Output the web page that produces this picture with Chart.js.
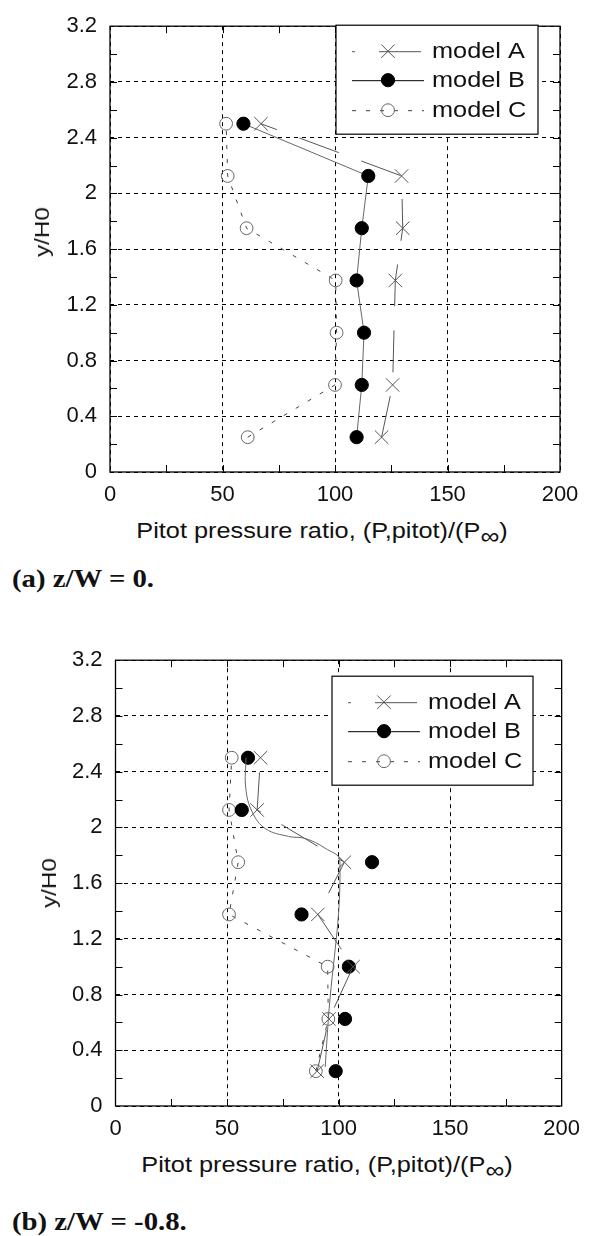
<!DOCTYPE html>
<html>
<head>
<meta charset="utf-8">
<title>Pitot pressure ratio profiles</title>
<script src="https://cdn.jsdelivr.net/npm/chart.js@4.4.1/dist/chart.umd.min.js"></script>
<style>
  html, body { margin: 0; padding: 0; background: #fff; width: 590px; height: 1236px; overflow: hidden; }
  .panel { position: absolute; left: 0; width: 590px; height: 515px; }
  .panel canvas { display: block; }
  .ytitle, .xtitle, .caption { position: absolute; white-space: nowrap; color: #111; }
  .ytitle { font: 21px "Liberation Sans", Arial, sans-serif; transform: translate(-50%, -50%) rotate(-90deg) scaleX(1.15); }
  .xtitle { font: 22px "Liberation Sans", Arial, sans-serif; transform: translate(-50%, -50%) scaleX(1.15); }
  .xtitle .inf { font-size: 23px; position: relative; top: 6px; }
  .caption { left: 12px; font: bold 25px "Liberation Serif", "Times New Roman", serif; transform-origin: 0 50%; transform: translateY(-50%) scaleX(1.15); }
</style>
</head>
<body>

<div class="panel" style="top:0"><canvas id="chartA" width="590" height="515"></canvas></div>
<div class="ytitle" style="left:42px; top:232px">y/H0</div>
<div class="xtitle" style="left:322px; top:530px">Pitot pressure ratio, (P,pitot)/(P<span class="inf">&infin;</span>)</div>
<div class="caption" style="top:579px">(a) z/W = 0.</div>

<div class="panel" style="top:634px"><canvas id="chartB" width="590" height="515"></canvas></div>
<div class="ytitle" style="left:49px; top:883px">y/H0</div>
<div class="xtitle" style="left:327px; top:1164px">Pitot pressure ratio, (P,pitot)/(P<span class="inf">&infin;</span>)</div>
<div class="caption" style="top:1222px">(b) z/W = -0.8.</div>

<script>
'use strict';

// ── Data ─────────────────────────────────────────────────────────────────────
// Measurement heights (y/H0), shared by all three models and both stations.
const yLevels = [0.25, 0.625, 1.0, 1.375, 1.75, 2.125, 2.5];

// (a) z/W = 0 — pitot pressure ratio per height (null = no point)
const a_modelA = [120.7, 125.6, null, 126.8, 130.1, 129.6, 67.1];
const a_modelB = [109.6, 111.9, 112.9, 109.6, 111.9, 114.8, 59.3];
const a_modelC = [61.2, 100.0, 100.7, 100.3, 60.7, 52.3, 51.6];

// (b) z/W = -0.8
const b_modelA = [90.4, 95.7, 106.5, 90.7, 102.6, 63.5, 65.0];
const b_modelB = [98.7, 102.9, 104.6, 83.4, 115.0, 56.6, 59.4];
const b_modelC = [89.8, 95.4, 95.1, 50.9, 55.0, 50.9, 52.1];

// (b) smooth solid curve drawn through the profile
const b_curveY = [2.5, 2.28, 2.11, 1.99, 1.935, 1.92, 1.85, 1.757, 0.62, 0.28];
const b_curveX = [58.5, 58.4, 61.3, 67.3, 77.6, 85.1, 94.0, 100.6, 95.4, 94.0];

// Axis ticks
const xTicks      = [0, 50, 100, 150, 200];
const yTicks      = [0, 0.4, 0.8, 1.2, 1.6, 2, 2.4, 2.8, 3.2];
const xMinorTicks = [25, 50, 75, 100, 125, 150, 175];
const yMinorTicks = [0.2, 0.4, 0.6, 0.8, 1.0, 1.2, 1.4, 1.6, 1.8, 2.0, 2.2, 2.4, 2.6, 2.8, 3.0];

const legendLabels = ['model A', 'model B', 'model C'];

// ── Styles ───────────────────────────────────────────────────────────────────
const FONT = '"Liberation Sans", Arial, sans-serif';
const STYLE_A = { color: '#555', dash: [42, 24], pointStyle: 'crossRot', radius: 9.5, fill: 'rgba(0,0,0,0)' };
const STYLE_B = { color: '#666', dash: [], pointStyle: 'circle', radius: 6.6, fill: '#000', pointBorder: '#000' };
const STYLE_C = { color: '#444', dash: [4, 10], pointStyle: 'circle', radius: 6.4, fill: 'rgba(0,0,0,0)', pointBorder: '#666' };

function toPoints(xs, ys) {
  return ys.map(function (y, i) { return { x: xs[i], y: y }; });
}

function seriesDataset(label, xs, style, showLine) {
  return {
    label: label,
    data: toPoints(xs, yLevels),
    showLine: showLine,
    spanGaps: true,
    borderColor: style.color,
    borderWidth: 1,
    borderDash: style.dash,
    tension: 0,
    pointStyle: style.pointStyle,
    pointRadius: style.radius,
    pointHoverRadius: style.radius,
    pointBackgroundColor: style.fill,
    pointBorderColor: style.pointBorder || style.color,
    pointBorderWidth: 1,
  };
}

// ── Plugins ──────────────────────────────────────────────────────────────────

/** Solid frame plus short inward ticks on all four sides. */
const frameTicks = {
  id: 'frameTicks',
  beforeDatasetsDraw(chart) {
    const { ctx, chartArea: a, scales } = chart;
    const len = 7;
    ctx.save();
    ctx.strokeStyle = '#000';
    ctx.lineWidth = 1;
    ctx.setLineDash([]);
    ctx.beginPath();
    xMinorTicks.forEach(function (v) {
      const x = Math.round(scales.x.getPixelForValue(v)) + 0.5;
      ctx.moveTo(x, a.bottom); ctx.lineTo(x, a.bottom - len);
      ctx.moveTo(x, a.top);    ctx.lineTo(x, a.top + len);
    });
    yMinorTicks.forEach(function (v) {
      const y = Math.round(scales.y.getPixelForValue(v)) + 0.5;
      ctx.moveTo(a.left, y);  ctx.lineTo(a.left + len, y);
      ctx.moveTo(a.right, y); ctx.lineTo(a.right - len, y);
    });
    ctx.stroke();
    ctx.lineWidth = 1.3;
    ctx.strokeRect(a.left, a.top, a.right - a.left, a.bottom - a.top);
    ctx.restore();
  },
};

/** Boxed legend with line sample + marker, like the original plot. */
const boxLegend = {
  id: 'boxLegend',
  afterDatasetsDraw(chart, _args, opts) {
    const { ctx, chartArea: a } = chart;
    const left = a.left + opts.dx;
    const top  = a.top + opts.dy;
    const rows = [26, 55, 85];
    ctx.save();
    ctx.fillStyle = '#fff';
    ctx.fillRect(left, top, opts.w, opts.h);
    ctx.strokeStyle = '#000';
    ctx.lineWidth = 1.2;
    ctx.setLineDash([]);
    ctx.strokeRect(left, top, opts.w, opts.h);

    opts.styles.forEach(function (st, i) {
      const y = top + rows[i];
      const x0 = left + 16, x1 = left + 88, xm = left + 52;
      ctx.save();
      ctx.strokeStyle = i === 1 ? '#000' : st.color;
      ctx.lineWidth = 1;
      ctx.setLineDash(st.dash);
      ctx.lineDashOffset = i === 0 ? 39 : 0;
      ctx.beginPath();
      ctx.moveTo(x0, y + 0.5); ctx.lineTo(x1, y + 0.5);
      ctx.stroke();
      ctx.restore();

      ctx.save();
      ctx.fillStyle = st.fill;
      ctx.strokeStyle = st.pointBorder || st.color;
      ctx.lineWidth = 1;
      Chart.helpers.drawPoint(ctx, { pointStyle: st.pointStyle, radius: st.radius, rotation: 0, borderWidth: 1 }, xm, y);
      ctx.restore();

      ctx.save();
      ctx.translate(left + 96, y);
      ctx.scale(1.15, 1);
      ctx.fillStyle = '#111';
      ctx.font = '22px ' + FONT;
      ctx.textBaseline = 'middle';
      ctx.fillText(legendLabels[i], 0, 1);
      ctx.restore();
    });
    ctx.restore();
  },
};

// ── Chart factory ────────────────────────────────────────────────────────────

function makeChart(canvasId, datasets, shiftLeft, legendPos) {
  const tickFont = { family: FONT, size: 22 };
  return new Chart(document.getElementById(canvasId), {
    type: 'scatter',
    data: { datasets: datasets },
    plugins: [frameTicks, boxLegend],
    options: {
      responsive: false,
      animation: false,
      events: [],
      layout: { padding: { left: shiftLeft, right: 30 - shiftLeft, top: 23, bottom: 0 } },
      plugins: {
        legend: { display: false },
        tooltip: { enabled: false },
        boxLegend: Object.assign({ styles: [STYLE_A, STYLE_B, STYLE_C] }, legendPos),
      },
      scales: {
        x: {
          type: 'linear',
          min: 0,
          max: 200,
          afterBuildTicks: function (s) { s.ticks = xTicks.map(function (v) { return { value: v }; }); },
          afterFit: function (s) { s.height = 43; },
          grid: { color: '#000', lineWidth: 1, drawTicks: false },
          border: { display: false, dash: [4, 4] },
          ticks: { color: '#111', font: tickFont, padding: 10, maxRotation: 0, callback: function (v) { return String(v); } },
        },
        y: {
          type: 'linear',
          min: 0,
          max: 3.2,
          afterBuildTicks: function (s) { s.ticks = yTicks.map(function (v) { return { value: v }; }); },
          afterFit: function (s) { s.width = 110; },
          grid: { color: '#000', lineWidth: 1, drawTicks: false },
          border: { display: false, dash: [4, 4] },
          ticks: { color: '#111', font: tickFont, padding: 13, callback: function (v) { return String(v); } },
        },
      },
    },
  });
}

// (a) z/W = 0
makeChart('chartA', [
  seriesDataset('model A', a_modelA, STYLE_A, true),
  seriesDataset('model B', a_modelB, STYLE_B, true),
  seriesDataset('model C', a_modelC, STYLE_C, true),
], 0, { dx: 226, dy: -1, w: 202, h: 109 });

// (b) z/W = -0.8
makeChart('chartB', [
  {
    label: 'curve',
    data: toPoints(b_curveX, b_curveY),
    showLine: true,
    borderColor: '#666',
    borderWidth: 1,
    tension: 0.4,
    pointRadius: 0,
  },
  seriesDataset('model A', b_modelA, STYLE_A, true),
  seriesDataset('model B', b_modelB, STYLE_B, false),
  seriesDataset('model C', b_modelC, STYLE_C, true),
], 5.5, { dx: 216.5, dy: 16, w: 201, h: 109 });
</script>
</body>
</html>
